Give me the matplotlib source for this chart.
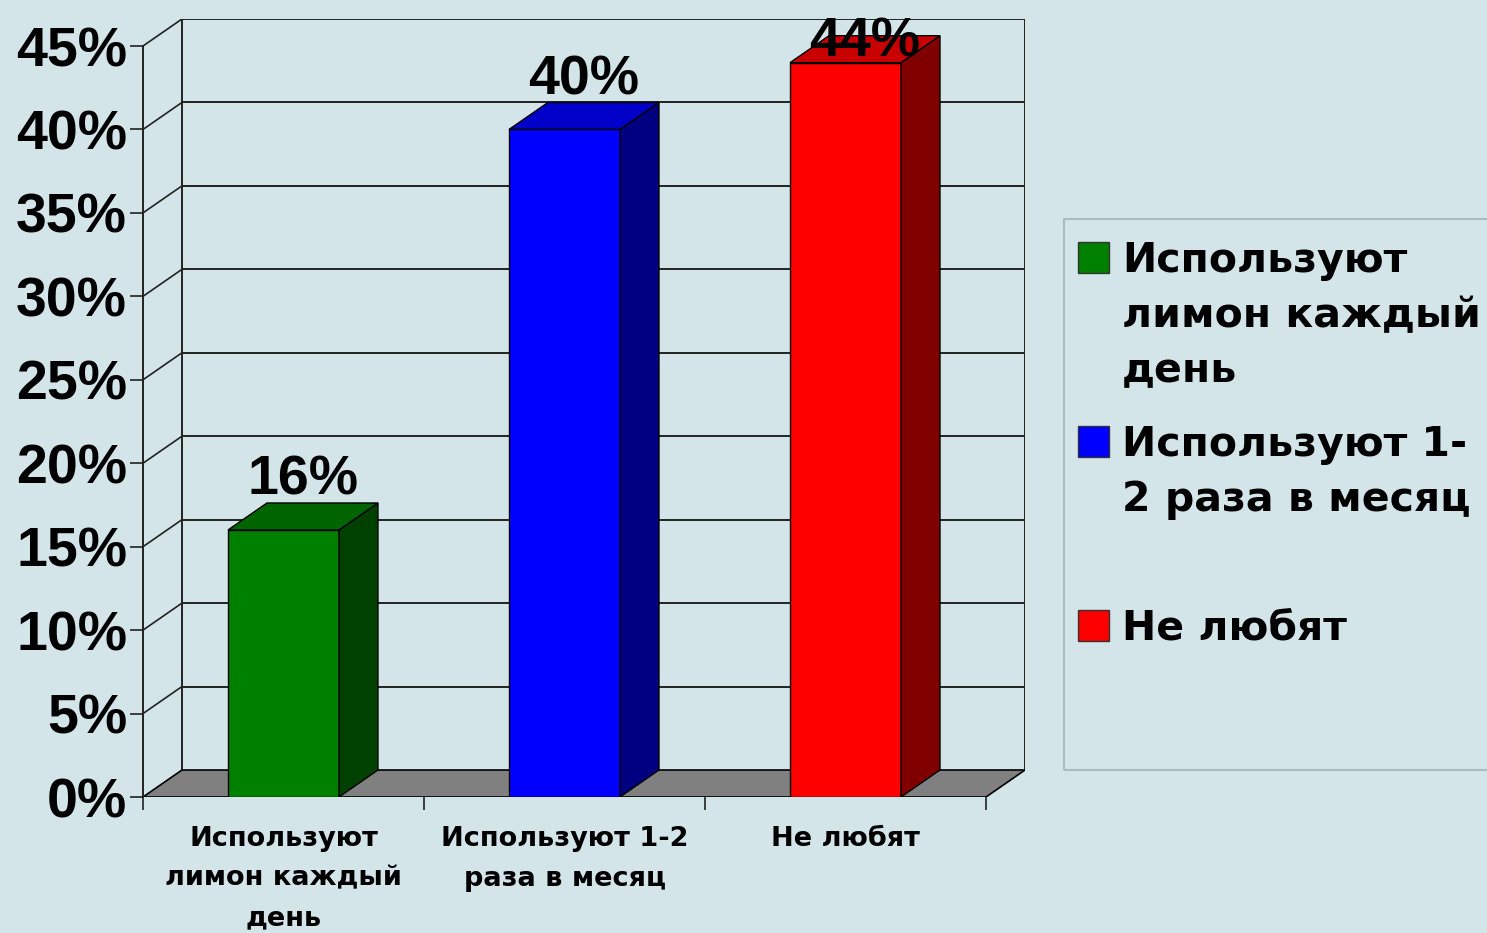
import matplotlib
matplotlib.use("Agg")
import matplotlib.pyplot as plt
from matplotlib.patches import Polygon, Rectangle

# Data
categories = ["Используют\nлимон каждый\nдень", "Используют 1-2\nраза в месяц", "Не любят"]
legend_labels = ["Используют\nлимон каждый\nдень", "Используют 1-\n2 раза в месяц", "Не любят"]
values = [16, 40, 44]
yticks = [0, 5, 10, 15, 20, 25, 30, 35, 40, 45]

# Style
BG = "#D4E5EA"
FRONT = ["#008000", "#0000FF", "#FF0000"]
TOP = ["#006400", "#0000C8", "#C80000"]
SIDE = ["#004000", "#000080", "#800000"]
FLOOR = "#808080"
W, H = 1487, 933
DX = 39 / (844 / 3)      # depth offset in category units
DY = 27 / (751 / 45)     # depth offset in percent units
BAR_W = 0.395
WIDE = ["DejaVu Sans"]   # wider face stands in for the spaced-out Arial

plt.rcParams["font.family"] = ["Liberation Sans", "DejaVu Sans"]

fig = plt.figure(figsize=(W / 100, H / 100), dpi=100, facecolor=BG)
ax = fig.add_axes([143 / W, 136 / H, 882 / W, 778 / H])
ax.set_facecolor("none")
ax.set_xlim(0, 3 + DX)
ax.set_ylim(0, 45 + DY)
for s in ax.spines.values():
    s.set_visible(False)

n = len(values)
ymax = yticks[-1]

# floor
ax.add_patch(Polygon([(0, 0), (n, 0), (n + DX, DY), (DX, DY)], closed=True,
                     facecolor=FLOOR, edgecolor="black", lw=1.2, zorder=1))

# walls and gridlines
for v in yticks[1:]:
    ax.plot([DX, n + DX], [v + DY, v + DY], color="#222222", lw=1.4, zorder=0.5)
    ax.plot([0, DX], [v, v + DY], color="#222222", lw=1.2, zorder=0.5)
ax.plot([DX, DX], [DY, ymax + DY], color="#222222", lw=1.4, zorder=0.5)
ax.plot([n + DX, n + DX], [DY, ymax + DY], color="#222222", lw=1.4, zorder=0.5)
ax.plot([0, 0], [0, ymax], color="#222222", lw=1.4, zorder=3, clip_on=False)

# bars
xs = [i + 0.5 for i in range(n)]
ax.bar(xs, values, width=BAR_W, color=FRONT, edgecolor="black", lw=1.0, zorder=2)
for x, v, ct, cs in zip(xs, values, TOP, SIDE):
    l, r = x - BAR_W / 2, x + BAR_W / 2
    ax.add_patch(Polygon([(r, 0), (r + DX, DY), (r + DX, v + DY), (r, v)], closed=True,
                         facecolor=cs, edgecolor="black", lw=1.0, zorder=2))
    ax.add_patch(Polygon([(l, v), (r, v), (r + DX, v + DY), (l + DX, v + DY)], closed=True,
                         facecolor=ct, edgecolor="black", lw=1.0, zorder=2))
    ax.text(x + DX / 2, min(v + DY + 0.5, 44.4), f"{v}%", ha="center", va="baseline",
            fontsize=40, fontweight="bold", zorder=4, clip_on=False)

# axes ticks
ax.set_yticks(yticks)
ax.set_yticklabels([f"{v}%" for v in yticks], fontsize=40, fontweight="bold")
ax.tick_params(axis="y", length=9.4, width=1.2, pad=2, color="#222222")
ax.set_xticks(range(n + 1))
ax.set_xticklabels([""] * (n + 1))
ax.set_xticks(xs, minor=True)
ax.set_xticklabels(categories, minor=True, fontsize=19.5, fontweight="bold",
                   family=WIDE, linespacing=1.68)
ax.tick_params(axis="x", which="major", length=9.4, width=1.2, color="#222222")
ax.tick_params(axis="x", which="minor", length=0, pad=21)

# legend
fig.patches.append(Rectangle((1064 / W, (H - 770) / H), (1490 - 1064) / W, (770 - 219) / H,
                             transform=fig.transFigure, facecolor="none",
                             edgecolor="#A8BCC2", lw=1.5))
for i, (lab, c) in enumerate(zip(legend_labels, FRONT)):
    top = 242 + i * 184
    fig.patches.append(Rectangle((1078 / W, (H - top - 31) / H), 31 / W, 31 / H,
                                 transform=fig.transFigure, facecolor=c,
                                 edgecolor="#333333", lw=1.0))
    for j, line in enumerate(lab.split("\n")):
        base = top + 30 + j * 55
        fig.text(1122 / W, (H - base) / H, line, fontsize=29.5, fontweight="bold",
                 family=WIDE, ha="left", va="baseline")

fig.savefig("out.png", dpi=100, facecolor=BG)
